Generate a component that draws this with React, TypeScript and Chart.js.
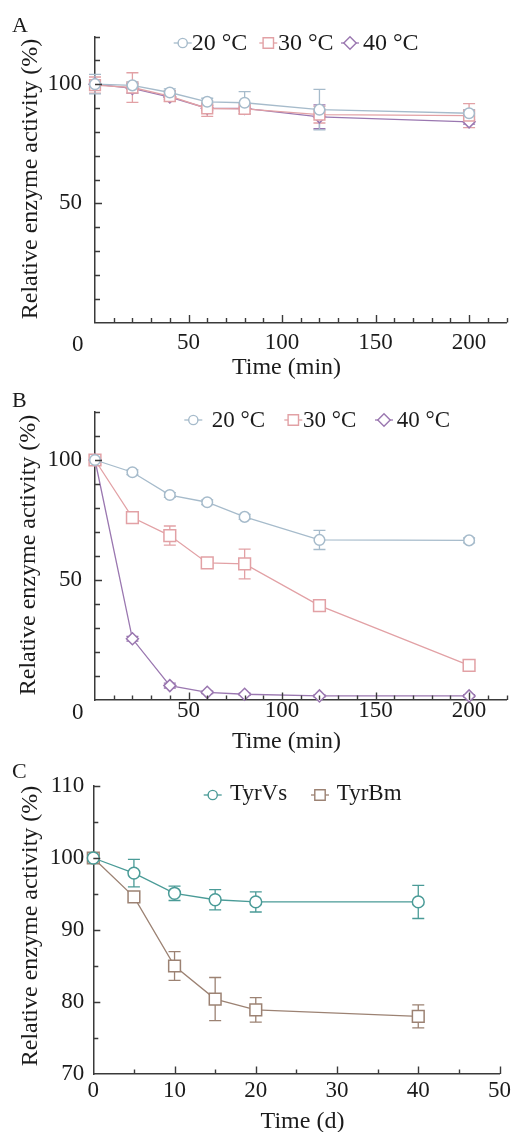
import React, { useEffect, useRef } from 'react';
import { Chart, registerables } from 'chart.js';

Chart.register(...registerables);

const W = 519;
const FONT = '"Liberation Serif", "Times New Roman", serif';
const INK = '#1b1b1b';
const AXIS = '#3a3a3a';

// ---------- data ----------
const timeMin = [0, 20, 40, 60, 80, 120, 200];
const tempLabels = ['20 °C', '30 °C', '40 °C'];
const xTickLabelsMin = [0, 50, 100, 150, 200];
const yTickLabelsAB = [50, 100];

// Panel A
const a20 = [100, 99.5, 96.5, 92.6, 92.2, 89.3, 87.8];
const a20Err = [4.1, 1.5, 1.5, 1.5, 4.7, 8.5, 1.5];
const a30 = [99.6, 98.6, 95, 89.8, 89.6, 87.2, 86.8];
const a30Err = [3.4, 6.2, 2.2, 3.3, 2, 3.5, 5];
const a40 = [100, 98.2, 94.6, 89.9, 89.8, 86.3, 84.2];
const a40Err = [1, 2, 1, 1, 1, 5, 1];

// Panel B
const b20 = [100, 94.9, 85.4, 82.4, 76.3, 66.7, 66.5];
const b20Err = [1, 1, 1, 1, 1, 4, 1];
const b30 = [100, 76, 68.5, 57.1, 56.7, 39.3, 14.4];
const b30Err = [1, 1.5, 4, 1, 6.2, 1, 1];
const b40 = [100, 25.5, 6, 3.2, 2.4, 1.7, 1.7];
const b40Err = [1, 1, 1, 0.5, 0.5, 0.5, 0.5];

// Panel C
const timeDay = [0, 5, 10, 15, 20, 40];
const enzymeLabels = ['TyrVs', 'TyrBm'];
const xTickLabelsDay = [0, 10, 20, 30, 40, 50];
const yTickLabelsC = [70, 80, 90, 100, 110];
const tyrVs = [100, 97.9, 95.1, 94.2, 93.9, 93.9];
const tyrVsErr = [0.3, 1.9, 1, 1.4, 1.4, 2.3];
const tyrBm = [100, 94.6, 85, 80.4, 78.9, 78];
const tyrBmErr = [0.5, 0.6, 2, 3, 1.7, 1.6];

// ---------- styles ----------
const C20 = '#a6bbcb';
const C30 = '#e2a1a5';
const C40 = '#9a77b0';
const CVS = '#4a9b97';
const CBM = '#9c8273';

type Style = 'circle' | 'rect' | 'rectRot';
interface Series { label: string; x: number[]; y: number[]; err: number[]; color: string; style: Style; radius: number; }
interface Panel {
  key: string; top: number; height: number;
  area: { left: number; right: number; top: number; bottom: number };
  xMin: number; xMax: number; xLabels: number[]; xMinor: number; xMajor: number;
  yMin: number; yMax: number; yLabels: number[]; yMinor: number; yMajor: number;
  yPad: number; xPad: number; hideZero: boolean;
  zeroLabel?: { x: number; y: number };
  xTitle: { text: string; x: number; y: number };
  yTitle: { x: number; y: number };
  letter: { text: string; x: number; y: number };
  legend: { y: number; baseline: number; size: number; items: { cx: number; tx: number }[] };
  series: Series[];
}

const mk = (label: string, x: number[], y: number[], err: number[], color: string, style: Style, radius: number): Series =>
  ({ label, x, y, err, color, style, radius });

const panels: Panel[] = [
  {
    key: 'A', top: 0, height: 392,
    area: { left: 95, right: 506.5, top: 36.5, bottom: 322.5 },
    xMin: 0, xMax: 220, xLabels: xTickLabelsMin, xMinor: 10, xMajor: 50,
    yMin: 0, yMax: 120, yLabels: yTickLabelsAB, yMinor: 10, yMajor: 50,
    yPad: 13, xPad: 11, hideZero: true,
    zeroLabel: { x: 77.7, y: 350.5 },
    xTitle: { text: 'Time (min)', x: 286.5, y: 374 },
    yTitle: { x: 37, y: 179 },
    letter: { text: 'A', x: 12, y: 32 },
    legend: { y: 43, baseline: 50, size: 24, items: [{ cx: 182.7, tx: 191.7 }, { cx: 268.3, tx: 278 }, { cx: 350, tx: 363 }] },
    series: [
      mk(tempLabels[0], timeMin, a20, a20Err, C20, 'circle', 5.3),
      mk(tempLabels[1], timeMin, a30, a30Err, C30, 'rect', 7.6),
      mk(tempLabels[2], timeMin, a40, a40Err, C40, 'rectRot', 6),
    ],
  },
  {
    key: 'B', top: 375, height: 392,
    area: { left: 95, right: 506.5, top: 37, bottom: 325 },
    xMin: 0, xMax: 220, xLabels: xTickLabelsMin, xMinor: 10, xMajor: 50,
    yMin: 0, yMax: 120, yLabels: yTickLabelsAB, yMinor: 10, yMajor: 50,
    yPad: 13, xPad: 1.5, hideZero: true,
    zeroLabel: { x: 77.7, y: 343.5 },
    xTitle: { text: 'Time (min)', x: 286.5, y: 372.5 },
    yTitle: { x: 35, y: 180 },
    letter: { text: 'B', x: 12, y: 32 },
    legend: { y: 45, baseline: 51.7, size: 23, items: [{ cx: 193.3, tx: 211.7 }, { cx: 293.3, tx: 303 }, { cx: 384, tx: 396.7 }] },
    series: [
      mk(tempLabels[0], timeMin, b20, b20Err, C20, 'circle', 5.3),
      mk(tempLabels[1], timeMin, b30, b30Err, C30, 'rect', 8.3),
      mk(tempLabels[2], timeMin, b40, b40Err, C40, 'rectRot', 6),
    ],
  },
  {
    key: 'C', top: 750, height: 382,
    area: { left: 93.3, right: 506, top: 36, bottom: 324 },
    xMin: 0, xMax: 50, xLabels: xTickLabelsDay, xMinor: 5, xMajor: 10,
    yMin: 70, yMax: 110, yLabels: yTickLabelsC, yMinor: 5, yMajor: 10,
    yPad: 9, xPad: 8, hideZero: false,
    xTitle: { text: 'Time (d)', x: 302.5, y: 377.7 },
    yTitle: { x: 37, y: 176 },
    letter: { text: 'C', x: 12, y: 28 },
    legend: { y: 45, baseline: 50, size: 23, items: [{ cx: 212.7, tx: 230 }, { cx: 320, tx: 336.7 }] },
    series: [
      mk(enzymeLabels[0], timeDay, tyrVs, tyrVsErr, CVS, 'circle', 5.9),
      mk(enzymeLabels[1], timeDay, tyrBm, tyrBmErr, CBM, 'rect', 8.3),
    ],
  },
];

function drawMarker(ctx: CanvasRenderingContext2D, style: Style, x: number, y: number, r: number, color: string) {
  ctx.save();
  ctx.fillStyle = '#fff';
  ctx.strokeStyle = color;
  ctx.lineWidth = 1.4;
  ctx.beginPath();
  if (style === 'circle') ctx.arc(x, y, r, 0, Math.PI * 2);
  else if (style === 'rect') ctx.rect(x - r, y - r, 2 * r, 2 * r);
  else { ctx.moveTo(x - r, y); ctx.lineTo(x, y - r); ctx.lineTo(x + r, y); ctx.lineTo(x, y + r); ctx.closePath(); }
  ctx.fill();
  ctx.stroke();
  ctx.restore();
}

function makeDecor(p: Panel) {
  return {
    id: 'decor' + p.key,
    beforeDatasetsDraw(chart: any) {
      const ctx: CanvasRenderingContext2D = chart.ctx;
      const xs = chart.scales.x, ys = chart.scales.y;
      const cap = 6;
      ctx.save();
      ctx.lineWidth = 1.3;
      for (let i = p.series.length - 1; i >= 0; i--) {
        const s = p.series[i];
        ctx.strokeStyle = s.color;
        s.x.forEach((xv, j) => {
          const e = s.err[j];
          if (!e) return;
          const px = xs.getPixelForValue(xv);
          const y1 = ys.getPixelForValue(s.y[j] + e);
          const y2 = ys.getPixelForValue(s.y[j] - e);
          ctx.beginPath();
          ctx.moveTo(px, y1); ctx.lineTo(px, y2);
          ctx.moveTo(px - cap, y1); ctx.lineTo(px + cap, y1);
          ctx.moveTo(px - cap, y2); ctx.lineTo(px + cap, y2);
          ctx.stroke();
        });
      }
      ctx.restore();
    },
    afterDraw(chart: any) {
      const ctx: CanvasRenderingContext2D = chart.ctx;
      const xs = chart.scales.x, ys = chart.scales.y;
      const area = chart.chartArea;
      ctx.save();
      // inward tick marks
      ctx.strokeStyle = AXIS;
      ctx.lineWidth = 1.4;
      ctx.beginPath();
      for (let v = p.xMin + p.xMinor; v <= p.xMax + 1e-9; v += p.xMinor) {
        const px = Math.round(xs.getPixelForValue(v)) + 0.5;
        const len = Math.abs(v % p.xMajor) < 1e-9 ? 7.5 : 4.5;
        ctx.moveTo(px, area.bottom);
        ctx.lineTo(px, area.bottom - len);
      }
      for (let v = p.yMin + p.yMinor; v <= p.yMax + 1e-9; v += p.yMinor) {
        const py = Math.round(ys.getPixelForValue(v)) + 0.5;
        const len = Math.abs(v % p.yMajor) < 1e-9 ? 7 : 5;
        ctx.moveTo(area.left, py);
        ctx.lineTo(area.left + len, py);
      }
      ctx.stroke();

      ctx.fillStyle = INK;
      // origin label
      if (p.zeroLabel) {
        ctx.font = '23px ' + FONT;
        ctx.textAlign = 'center';
        ctx.textBaseline = 'alphabetic';
        ctx.fillText('0', p.zeroLabel.x, p.zeroLabel.y);
      }
      // axis titles
      ctx.font = '24px ' + FONT;
      ctx.textAlign = 'center';
      ctx.textBaseline = 'alphabetic';
      ctx.fillText(p.xTitle.text, p.xTitle.x, p.xTitle.y);
      ctx.save();
      ctx.translate(p.yTitle.x, p.yTitle.y);
      ctx.rotate(-Math.PI / 2);
      ctx.fillText('Relative enzyme activity (%)', 0, 0);
      ctx.restore();
      // panel letter
      ctx.font = '22px ' + FONT;
      ctx.textAlign = 'left';
      ctx.fillText(p.letter.text, p.letter.x, p.letter.y);
      // legend
      p.series.forEach((s, i) => {
        const it = p.legend.items[i];
        ctx.strokeStyle = s.color;
        ctx.lineWidth = 1.3;
        ctx.beginPath();
        ctx.moveTo(it.cx - 9, p.legend.y);
        ctx.lineTo(it.cx + 9, p.legend.y);
        ctx.stroke();
        const r = s.style === 'circle' ? 4.6 : s.style === 'rect' ? 5.2 : 6.2;
        drawMarker(ctx, s.style, it.cx, p.legend.y, r, s.color);
        ctx.fillStyle = INK;
        ctx.font = p.legend.size + 'px ' + FONT;
        ctx.textAlign = 'left';
        ctx.textBaseline = 'alphabetic';
        ctx.fillText(s.label, it.tx, p.legend.baseline);
      });
      ctx.restore();
    },
  };
}

function PanelChart({ p }: { p: Panel }) {
  const ref = useRef<HTMLCanvasElement>(null);
  useEffect(() => {
    if (!ref.current) return;
    const chart = new Chart(ref.current, {
      type: 'line',
      data: {
        datasets: p.series.map((s) => ({
          label: s.label,
          data: s.x.map((x, i) => ({ x, y: s.y[i] })),
          borderColor: s.color,
          backgroundColor: '#fff',
          borderWidth: 1.3,
          pointStyle: s.style,
          pointRadius: s.radius,
          pointHoverRadius: s.radius,
          pointBorderWidth: 1.5,
          pointBackgroundColor: '#fff',
          pointBorderColor: s.color,
          tension: 0,
          clip: false as any,
        })),
      },
      options: {
        animation: false,
        responsive: false,
        events: [],
        layout: { padding: { left: 0, top: p.area.top, right: W - p.area.right, bottom: 0 } },
        plugins: { legend: { display: false }, tooltip: { enabled: false }, title: { display: false } },
        scales: {
          x: {
            type: 'linear',
            min: p.xMin,
            max: p.xMax,
            afterFit: (s: any) => { s.height = p.height - p.area.bottom; },
            afterBuildTicks: (s: any) => { s.ticks = p.xLabels.map((v) => ({ value: v })); },
            grid: { display: false, drawTicks: false },
            border: { display: true, color: AXIS, width: 1.5 },
            ticks: {
              font: { family: FONT, size: 23, lineHeight: 0.8 },
              color: INK,
              padding: p.xPad,
              maxRotation: 0,
              autoSkip: false,
              callback: (v: any) => (p.hideZero && Number(v) === 0 ? '' : String(v)),
            },
          },
          y: {
            type: 'linear',
            min: p.yMin,
            max: p.yMax,
            afterFit: (s: any) => { s.width = p.area.left; },
            afterBuildTicks: (s: any) => { s.ticks = p.yLabels.map((v) => ({ value: v })); },
            grid: { display: false, drawTicks: false },
            border: { display: true, color: AXIS, width: 1.5 },
            ticks: {
              font: { family: FONT, size: 23 },
              color: INK,
              padding: p.yPad,
              autoSkip: false,
              callback: (v: any) => String(v),
            },
          },
        },
      },
      plugins: [makeDecor(p)],
    } as any);
    return () => chart.destroy();
  }, [p]);
  return (
    <canvas
      ref={ref}
      width={W}
      height={p.height}
      style={{ position: 'absolute', left: 0, top: p.top, width: W, height: p.height }}
    />
  );
}

export default function App() {
  return (
    <div style={{ position: 'absolute', left: 0, top: 0, width: W, height: 1132, background: '#fff', overflow: 'hidden' }}>
      {panels.map((p) => (
        <PanelChart key={p.key} p={p} />
      ))}
    </div>
  );
}
